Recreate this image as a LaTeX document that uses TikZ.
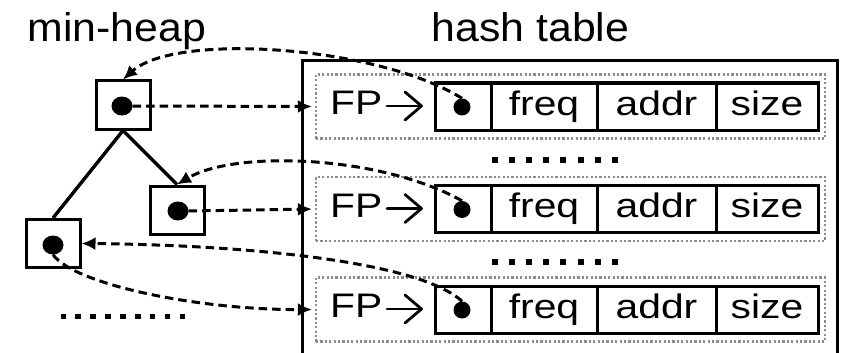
\documentclass[tikz,border=0pt]{standalone}
\usepackage{fontspec}
\setmainfont{Liberation Sans}
\usepackage{graphicx}
\usetikzlibrary{arrows.meta,shapes.geometric}

% text faces: slightly widened sans serif
\newcommand{\celltxt}[1]{\fontsize{34}{40}\selectfont\scalebox{1.2}[1]{#1}}
\newcommand{\titletxt}[1]{\fontsize{40}{46}\selectfont\scalebox{1.07}[1]{#1}}

\begin{document}
\begin{tikzpicture}[x=1pt,y=-1pt,
  heapbox/.style={draw, line width=3pt, minimum width=54pt, minimum height=48pt, inner sep=0pt},
  heapdot/.style={ellipse, fill=black, minimum width=21pt, minimum height=19pt, inner sep=0pt},
  celldot/.style={circle, fill=black, minimum size=17pt, inner sep=0pt},
  cellbox/.style={draw, line width=3pt, minimum height=47pt, inner sep=0pt,
                  text height=24pt, text depth=7pt},
  rowbox/.style={draw=black!45, line width=2.2pt, dash pattern=on 2.2pt off 2.2pt,
                 minimum width=509pt, minimum height=64pt, inner sep=0pt},
  ptrline/.style={line width=3pt, dash pattern=on 8.5pt off 5pt,
                  -{Latex[length=14pt,width=13pt]}},
  treeedge/.style={line width=3.4pt},
  glyph/.style={line width=2.8pt, line cap=round, line join=round},
  lbl/.style={inner sep=0pt}
]
\useasboundingbox (0,0) rectangle (846,353);

% titles
\node[lbl, anchor=base] (heaptitle)  at (117,41.5)  {\titletxt{min-heap}};
\node[lbl, anchor=base] (tabletitle) at (530.5,41.5) {\titletxt{hash table}};

% hash table frame (open at the bottom)
\draw[line width=3pt] (302,360) -- (302,61) -- (837,61) -- (837,360);

% hash table rows
\foreach \k/\y in {1/106.5, 2/209, 3/309.5}{
  \node[rowbox] (row\k) at (570.5,\y) {};
  \node[lbl, anchor=base west] (fp\k) at (330,\y+8) {\celltxt{FP}};
  \draw[glyph] (387,\y-0.5) -- (421,\y-0.5);
  \draw[glyph] (405,\y-14.5) -- (421.5,\y-0.5) -- (405,\y+13.5);
  \node[cellbox, minimum width=56pt]  (ptr\k)  at (463,\y)   {};
  \node[cellbox, minimum width=106pt] (freq\k) at (544,\y)   {\celltxt{freq}};
  \node[cellbox, minimum width=119pt] (addr\k) at (656.5,\y) {\celltxt{addr}};
  \node[cellbox, minimum width=102pt] (size\k) at (767,\y)   {\celltxt{size}};
  \node[celldot] (cdot\k) at (462,\y+0.5) {};
}

% elided rows
\foreach \yy in {160,262}{
  \foreach \i in {0,...,7}{
    \fill ({492+17.1*\i},\yy-3) rectangle ++(6,6);
  }
}

% min-heap
\node[heapbox] (h1) at (123,105)   {};
\node[heapbox] (h2) at (177,210)   {};
\node[heapbox] (h3) at (53,243.5)  {};
\node[heapdot] (hd1) at (122,106) {};
\node[heapdot] (hd2) at (178,211) {};
\node[heapdot] (hd3) at (53,245)  {};
\draw[treeedge] (h1.south) -- (h3.north);
\draw[treeedge] (h1.south) -- (h2.north);

\foreach \i in {0,...,8}{
  \fill ({60.5+14.9*\i},313.5) rectangle ++(5.5,5.5);
}

% heap entries point to their table rows
\draw[ptrline, shorten >=3pt] (hd1.east) -- (row1.west);
\draw[ptrline, shorten >=3pt] (hd2.east) -- (row2.west);
\draw[ptrline, shorten >=3pt] (hd3.south) .. controls (75,285) and (200,310) .. (row3.west);

% table rows point back to their heap entries
\draw[ptrline] (cdot1.north) .. controls (378,46) and (176,32) .. (h1.north);
\draw[ptrline] (cdot2.north) .. controls (380,155) and (235,150) .. (h2.north);
\draw[ptrline] (cdot3.north) .. controls (420,262) and (250,245) .. (h3.east);
\end{tikzpicture}
\end{document}
